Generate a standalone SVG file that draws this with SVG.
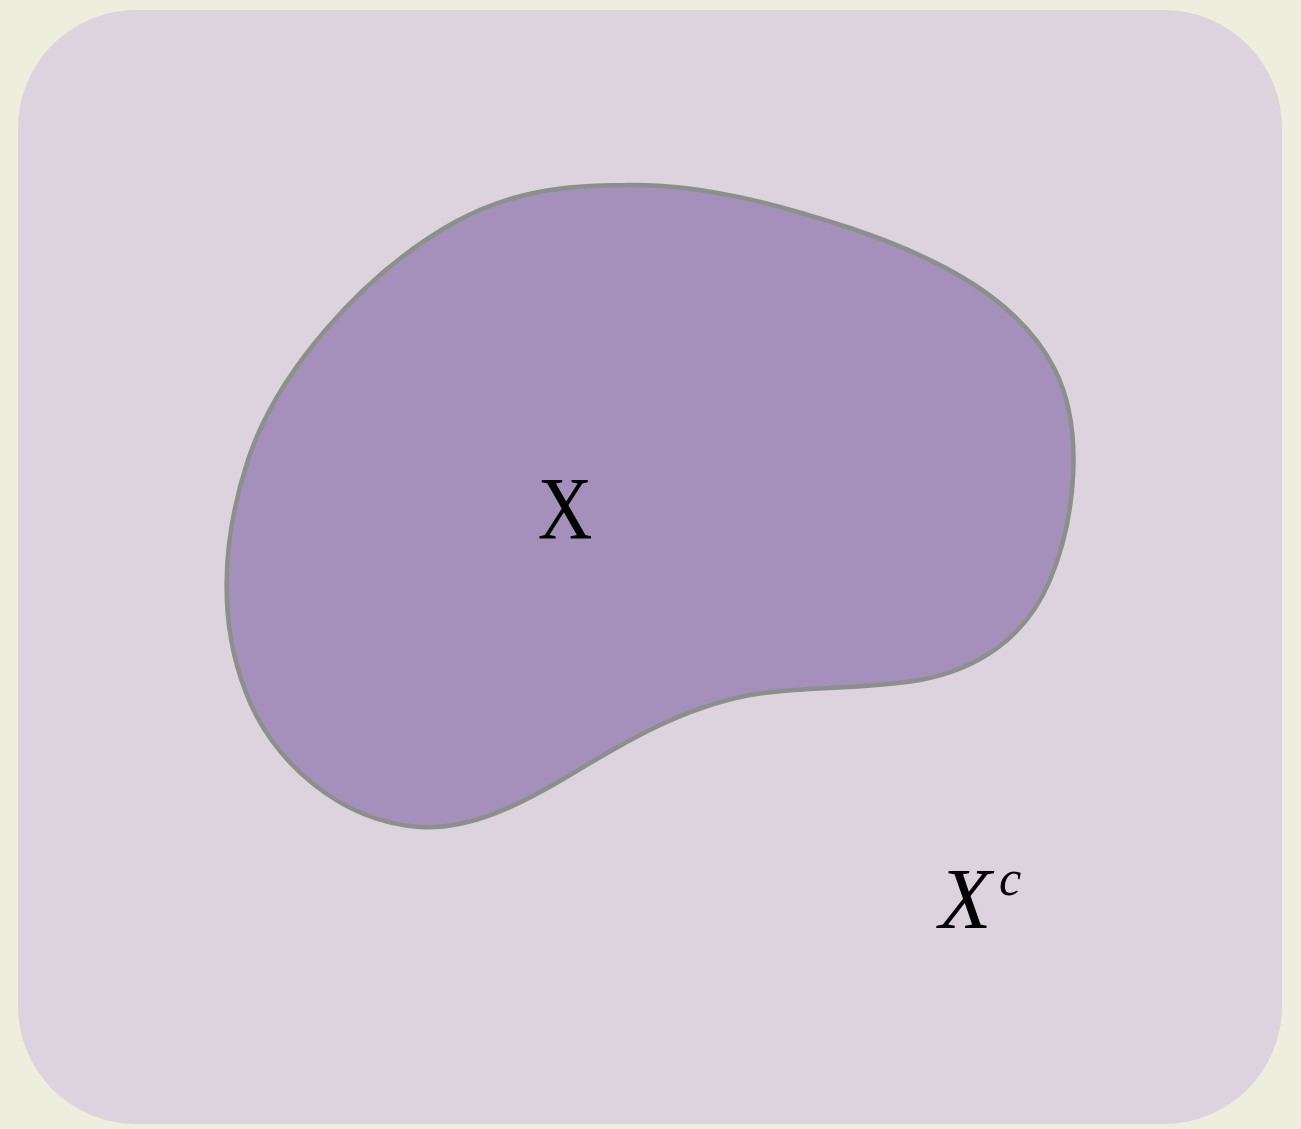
<svg xmlns="http://www.w3.org/2000/svg" width="1301" height="1129" viewBox="0 0 1301 1129">
<style>
.lbl{font-family:"Liberation Serif","Times New Roman",serif;fill:#000}
</style>
<rect x="0" y="0" width="1301" height="1129" fill="#edeedd"/>
<g id="universe">
<rect x="18" y="10" width="1264" height="1114" rx="118" ry="118" fill="#dcd3df"/>
</g>
<g id="setX">
<path d="M 625 185 C 700 183, 780 205, 850 228 C 940 258, 1020 300, 1055 370 C 1085 430, 1075 520, 1050 580 C 1025 640, 975 670, 920 680 C 860 690, 800 686, 750 695 C 680 708, 620 745, 570 775 C 520 805, 470 830, 420 827 C 340 822, 270 760, 245 690 C 220 625, 220 545, 248 460 C 276 375, 360 275, 455 222 C 513 190, 570 185, 625 185 Z" fill="#a590bc" stroke="#8b908b" stroke-width="4.5"/>
<text class="lbl" transform="translate(565,538) scale(0.85,1)" text-anchor="middle" font-size="89">X</text>
</g>
<g id="complement">
<text class="lbl" x="939" y="928" font-size="86" font-style="italic">X</text>
<text class="lbl" x="999" y="895" font-size="50" font-style="italic">c</text>
</g>
<g id="connectors"></g>
</svg>
